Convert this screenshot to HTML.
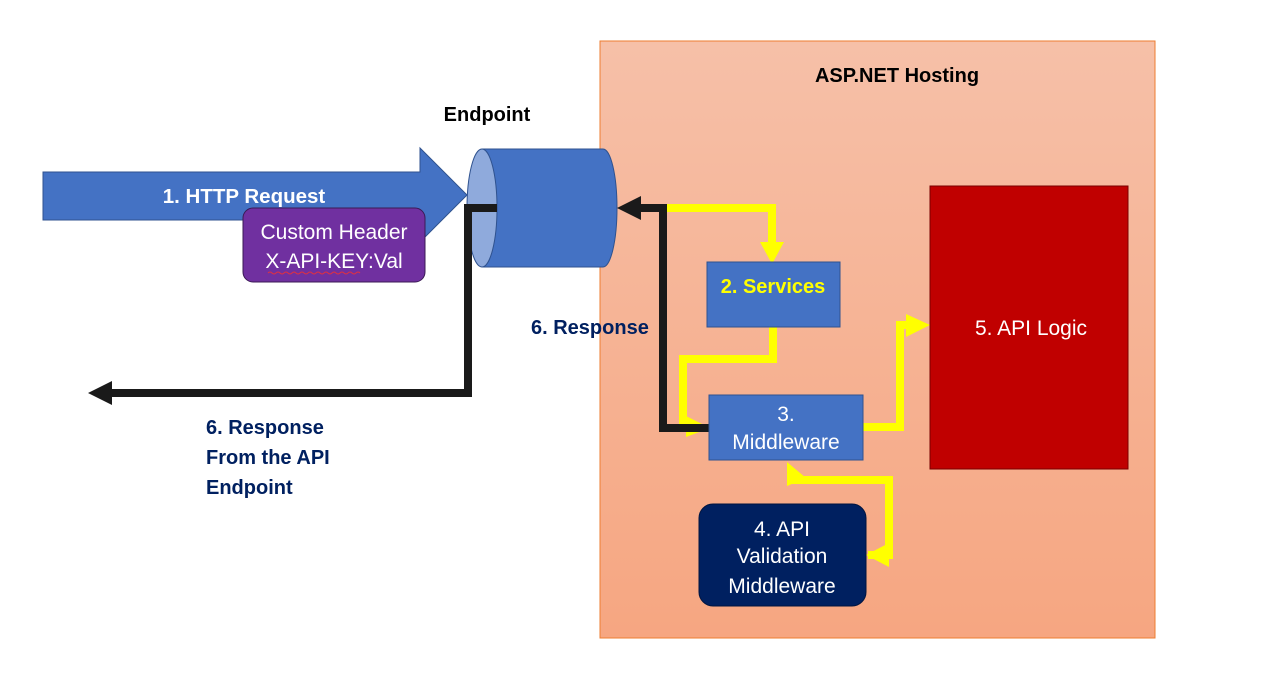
<!DOCTYPE html>
<html><head><meta charset="utf-8"><style>
html,body{margin:0;padding:0;background:#fff;}
svg{display:block;}
text{font-family:"Liberation Sans",sans-serif;}
</style></head><body>
<svg width="1268" height="697" viewBox="0 0 1268 697" xmlns="http://www.w3.org/2000/svg">
<defs>
<linearGradient id="g" x1="0" y1="0" x2="0" y2="1">
<stop offset="0" stop-color="#f6c0a8"/><stop offset="1" stop-color="#f6a681"/>
</linearGradient>
</defs>
<rect x="600" y="41" width="555" height="597" fill="url(#g)" stroke="#ed7d31" stroke-width="1"/>
<text x="897" y="82" font-size="20" font-weight="bold" text-anchor="middle" fill="#000">ASP.NET Hosting</text>
<text x="487" y="121" font-size="20" font-weight="bold" text-anchor="middle" fill="#000">Endpoint</text>

<polygon points="43,172 420,172 420,148 467,195 420,242 420,220 43,220" fill="#4472c4" stroke="#2f528f" stroke-width="1"/>
<text x="244" y="203" font-size="20.5" font-weight="bold" text-anchor="middle" fill="#fff">1. HTTP Request</text>

<rect x="243" y="208" width="182" height="74" rx="10" fill="#7030a0" stroke="#3b1a55" stroke-width="1"/>
<text x="334" y="239" font-size="21" text-anchor="middle" fill="#fff">Custom Header</text>
<text x="334" y="268" font-size="21" text-anchor="middle" fill="#fff">X-API-KEY:Val</text>
<path d="M268,273 q2,-2 4,0 t4,0 t4,0 t4,0 t4,0 t4,0 t4,0 t4,0 t4,0 t4,0 t4,0 t4,0 t4,0 t4,0 t4,0 t4,0 t4,0 t4,0 t4,0 t4,0 t4,0 t4,0 t4,0" fill="none" stroke="#e03040" stroke-width="1"/>

<path d="M482,149 L603,149 A14,59 0 0 1 603,267 L482,267 Z" fill="#4472c4" stroke="#2f528f" stroke-width="1"/>
<ellipse cx="482" cy="208" rx="15" ry="59" fill="#8faadc" stroke="#2f528f" stroke-width="1"/>

<polyline points="497,208 468,208 468,393 110,393" fill="none" stroke="#1a1a1a" stroke-width="8"/>
<polygon points="88,393 112,381 112,405" fill="#1a1a1a"/>

<polyline points="663,208 772,208 772,245" fill="none" stroke="#ffff00" stroke-width="8"/>
<polygon points="760,242 784,242 772,264" fill="#ffff00"/>
<polyline points="773,327 773,359 683,359 683,428 692,428" fill="none" stroke="#ffff00" stroke-width="8"/>
<polygon points="686,416 710,428 686,437" fill="#ffff00"/>
<polyline points="863,427 900,427 900,325 912,325" fill="none" stroke="#ffff00" stroke-width="8"/>
<polygon points="906,314 930,325 906,337" fill="#ffff00"/>
<polyline points="868,555 889,555 889,480 792,480" fill="none" stroke="#ffff00" stroke-width="8"/>
<polygon points="787,462 787,486 806,478" fill="#ffff00"/>
<polygon points="866,555 889,543 889,567" fill="#ffff00"/>

<polyline points="710,428 663,428 663,208 638,208" fill="none" stroke="#1a1a1a" stroke-width="8"/>
<polygon points="617,208 641,196 641,220" fill="#1a1a1a"/>

<rect x="707" y="262" width="133" height="65" fill="#4472c4" stroke="#2f528f" stroke-width="1"/>
<text x="773" y="293" font-size="20" font-weight="bold" text-anchor="middle" fill="#ffff00">2. Services</text>
<rect x="709" y="395" width="154" height="65" fill="#4472c4" stroke="#2f528f" stroke-width="1"/>
<text x="786" y="421" font-size="21" text-anchor="middle" fill="#fff">3.</text>
<text x="786" y="449" font-size="21" text-anchor="middle" fill="#fff">Middleware</text>
<rect x="930" y="186" width="198" height="283" fill="#c00000" stroke="#7a0000" stroke-width="1"/>
<text x="1031" y="335" font-size="21" text-anchor="middle" fill="#fff">5. API Logic</text>
<rect x="699" y="504" width="167" height="102" rx="14" fill="#002060" stroke="#001540" stroke-width="1"/>
<text x="782" y="536" font-size="21" text-anchor="middle" fill="#fff">4. API</text>
<text x="782" y="563" font-size="21" text-anchor="middle" fill="#fff">Validation</text>
<text x="782" y="593" font-size="21" text-anchor="middle" fill="#fff">Middleware</text>

<text x="531" y="334" font-size="20" font-weight="bold" fill="#002060">6. Response</text>
<text x="206" y="434" font-size="20" font-weight="bold" fill="#002060">6. Response</text>
<text x="206" y="464" font-size="20" font-weight="bold" fill="#002060">From the API</text>
<text x="206" y="494" font-size="20" font-weight="bold" fill="#002060">Endpoint</text>
</svg>
</body></html>
